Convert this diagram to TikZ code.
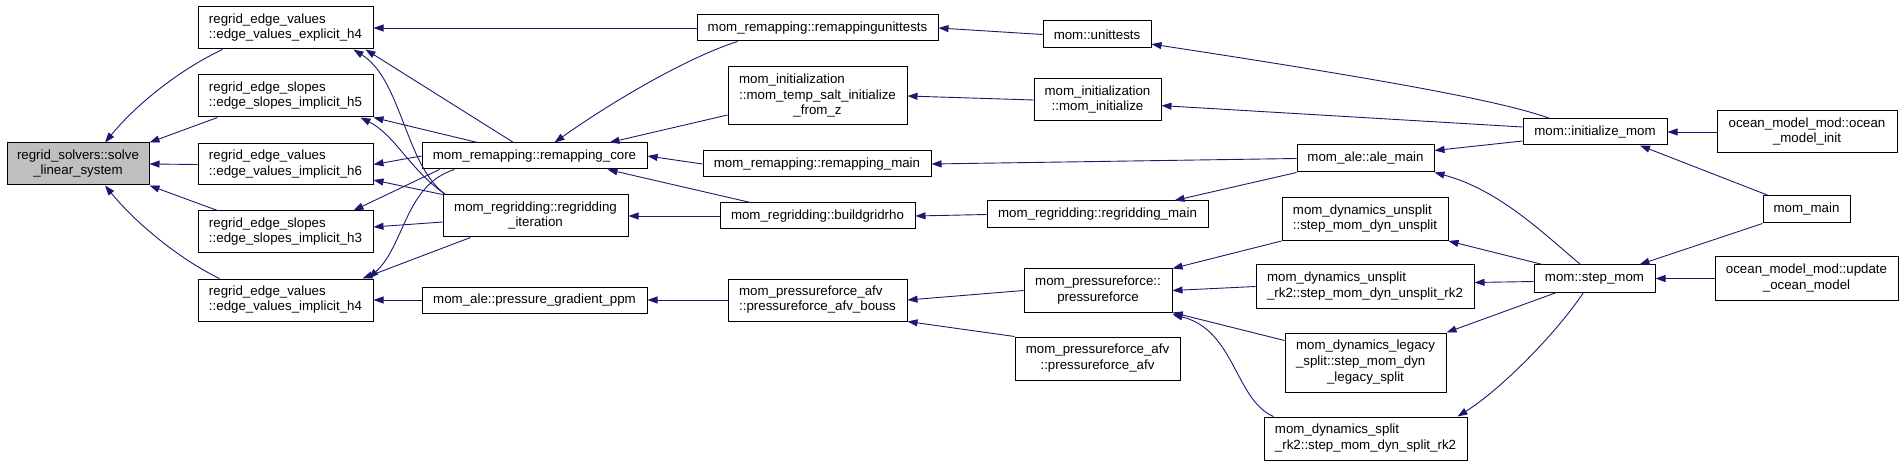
\documentclass[tikz,border=0pt]{standalone}
\usepackage{fontspec}
\setmainfont{Liberation Sans}
\usetikzlibrary{arrows.meta}
\definecolor{midnightblue}{RGB}{25,25,112}
\definecolor{callgray}{RGB}{191,191,191}
\newcommand{\lbl}[2]{\begin{tabular}{@{}l@{}}#1\\\multicolumn{1}{@{}c@{}}{#2}\end{tabular}}

\begin{document}
\begin{tikzpicture}[
        x=1pt, y=-1pt,
        func/.style 2 args={draw=black, fill=white, line width=1pt, inner sep=0pt,
            minimum width=#1pt, minimum height=#2pt,
            font=\fontsize{13.3}{15.7}\selectfont},
        rootfunc/.style={fill=callgray},
        edge/.style={draw=midnightblue, line width=0.9pt,
            -{Triangle[length=10pt, width=7pt]}}
    ]
        \useasboundingbox (0,0) rectangle (1904,465);
        % Nodes
        \node[func={142}{42}, rootfunc] (solve) at (78,164) {\lbl{regrid\_solvers::solve}{\_linear\_system}};
        \node[func={175}{42}] (exph4) at (285.5,28) {\lbl{regrid\_edge\_values}{::edge\_values\_explicit\_h4}};
        \node[func={175}{42}] (slh5) at (285.5,96) {\lbl{regrid\_edge\_slopes}{::edge\_slopes\_implicit\_h5}};
        \node[func={175}{41}] (vh6) at (285.5,164.5) {\lbl{regrid\_edge\_values}{::edge\_values\_implicit\_h6}};
        \node[func={175}{42}] (slh3) at (285.5,232) {\lbl{regrid\_edge\_slopes}{::edge\_slopes\_implicit\_h3}};
        \node[func={175}{42}] (imph4) at (285.5,300) {\lbl{regrid\_edge\_values}{::edge\_values\_implicit\_h4}};
        \node[func={225}{26}] (remcore) at (534.5,156) {mom\_remapping::remapping\_core};
        \node[func={185}{42}] (regiter) at (535.5,216) {\lbl{mom\_regridding::regridding}{\_iteration}};
        \node[func={225}{26}] (pgppm) at (534.5,300) {mom\_ale::pressure\_gradient\_ppm};
        \node[func={241}{26}] (remunit) at (817.5,28) {mom\_remapping::remappingunittests};
        \node[func={179}{58}] (tsfromz) at (817.5,96) {\lbl{mom\_initialization\\::mom\_temp\_salt\_initialize}{\_from\_z}};
        \node[func={228}{26}] (remmain) at (817,164) {mom\_remapping::remapping\_main};
        \node[func={195}{26}] (buildrho) at (817.5,216) {mom\_regridding::buildgridrho};
        \node[func={179}{42}] (afvbouss) at (817.5,300) {\lbl{mom\_pressureforce\_afv}{::pressureforce\_afv\_bouss}};
        \node[func={108}{27}] (unittests) at (1097,34.5) {mom::unittests};
        \node[func={127}{42}] (mominit) at (1097.5,100) {\lbl{mom\_initialization}{::mom\_initialize}};
        \node[func={137}{27}] (alemain) at (1365.5,158.5) {mom\_ale::ale\_main};
        \node[func={221}{27}] (regmain) at (1097.5,214.5) {mom\_regridding::regridding\_main};
        \node[func={166}{43}] (dynunsplit) at (1365,219) {\lbl{mom\_dynamics\_unsplit}{::step\_mom\_dyn\_unsplit}};
        \node[func={148}{43}] (pforce) at (1098,290.5) {\lbl{mom\_pressureforce::}{pressureforce}};
        \node[func={218}{43}] (unsplitrk2) at (1365,286.5) {\lbl{mom\_dynamics\_unsplit}{\_rk2::step\_mom\_dyn\_unsplit\_rk2}};
        \node[func={165}{43}] (pforceafv) at (1097.5,358.5) {\lbl{mom\_pressureforce\_afv}{::pressureforce\_afv}};
        \node[func={161}{59}] (legacy) at (1365.5,362.5) {\lbl{mom\_dynamics\_legacy\\\_split::step\_mom\_dyn}{\_legacy\_split}};
        \node[func={203}{43}] (splitrk2) at (1365.5,438.5) {\lbl{mom\_dynamics\_split}{\_rk2::step\_mom\_dyn\_split\_rk2}};
        \node[func={144}{26}] (initmom) at (1595,132) {mom::initialize\_mom};
        \node[func={180}{42}] (oceaninit) at (1807,132) {\lbl{ocean\_model\_mod::ocean}{\_model\_init}};
        \node[func={87}{27}] (mommain) at (1806.5,209.5) {mom\_main};
        \node[func={121}{27}] (stepmom) at (1594.5,278.5) {mom::step\_mom};
        \node[func={183}{43}] (updocean) at (1806.5,278.5) {\lbl{ocean\_model\_mod::update}{\_ocean\_model}};
        % Edges into solve_linear_system
        \draw[edge] ([xshift=25pt]exph4.south west) .. controls (185,67) and (140,100) .. ([xshift=27pt]solve.north);
        \draw[edge] ([xshift=20pt]slh5.south west) -- (solve.north east);
        \draw[edge] (vh6.west) -- (solve.east);
        \draw[edge] ([xshift=20pt]slh3.north west) -- (solve.south east);
        \draw[edge] ([xshift=22pt]imph4.north west) .. controls (185,262) and (140,228) .. ([xshift=27pt]solve.south);
        % Edges into the regrid_edge routines
        \draw[edge] (remunit.west) -- (exph4.east);
        \draw[edge] ([xshift=-21pt]remcore.north) -- ([xshift=-8pt]exph4.south east);
        \draw[edge] ([xshift=-90pt]regiter.north) .. controls (405,165) and (402,80) .. ([xshift=-20pt]exph4.south east);
        \draw[edge] ([xshift=-57pt]remcore.north) -- (slh5.south east);
        \draw[edge] ([xshift=-90pt]regiter.north) .. controls (410,170) and (395,135) .. ([xshift=-13pt]slh5.south east);
        \draw[edge] (remcore.west) -- (vh6.east);
        \draw[edge] (regiter.north west) -- (vh6.-10);
        \draw[edge] ([xshift=-95pt]remcore.south) -- ([xshift=-20pt]slh3.north east);
        \draw[edge] ([yshift=-6pt]regiter.west) -- ([yshift=5pt]slh3.east);
        \draw[edge] ([xshift=-65pt]regiter.south) -- ([xshift=-11pt]imph4.north east);
        \draw[edge] ([xshift=-80pt]remcore.south) .. controls (405,185) and (405,245) .. ([xshift=-5pt]imph4.north east);
        \draw[edge] (pgppm.west) -- (imph4.east);
        % Edges into the remapping and regridding core
        \draw[edge] ([xshift=-80pt]remunit.south) .. controls (680,60) and (600,110) .. ([xshift=20pt]remcore.north);
        \draw[edge] ([yshift=-19pt]tsfromz.west) -- ([xshift=75pt]remcore.north);
        \draw[edge] (remmain.west) -- (remcore.east);
        \draw[edge] ([xshift=-67pt]buildrho.north) -- ([xshift=73pt]remcore.south);
        \draw[edge] (buildrho.west) -- (regiter.east);
        \draw[edge] (afvbouss.west) -- (pgppm.east);
        \draw[edge] (unittests.west) -- (remunit.east);
        \draw[edge] (mominit.west) -- (tsfromz.east);
        \draw[edge] (alemain.west) -- (remmain.east);
        \draw[edge] (regmain.west) -- (buildrho.east);
        \draw[edge] (pforce.west) -- (afvbouss.east);
        \draw[edge] (pforceafv.north west) -- (afvbouss.south east);
        % Edges from the model drivers
        \draw[edge] ([xshift=-45pt]initmom.north) .. controls (1510,104) and (1420,85) .. (unittests.-10);
        \draw[edge] ([yshift=5pt]initmom.west) -- (mominit.-5);
        \draw[edge] ([yshift=-9pt]initmom.west) -- ([yshift=8pt]alemain.east);
        \draw[edge] (alemain.south west) -- ([xshift=77pt]regmain.north);
        \draw[edge] ([xshift=-14pt]stepmom.north) .. controls (1545,235) and (1500,190) .. (alemain.south east);
        \draw[edge] ([xshift=-52pt]stepmom.north) -- (dynunsplit.south east);
        \draw[edge] ([yshift=-3pt]stepmom.west) -- ([yshift=4pt]unsplitrk2.east);
        \draw[edge] ([xshift=-38pt]stepmom.south) -- (legacy.north east);
        \draw[edge] ([xshift=-11pt]stepmom.south) .. controls (1555,335) and (1500,390) .. ([xshift=-10pt]splitrk2.north east);
        \draw[edge] (dynunsplit.south west) -- (pforce.north east);
        \draw[edge] (unsplitrk2.west) -- (pforce.east);
        \draw[edge] ([yshift=-8pt]legacy.north west) -- (pforce.south east);
        \draw[edge] ([xshift=-92pt]splitrk2.north) .. controls (1235,400) and (1235,330) .. ([yshift=-2pt]pforce.south east);
        \draw[edge] (oceaninit.west) -- (initmom.east);
        \draw[edge] ([xshift=-38pt]mommain.north) -- ([xshift=45pt]initmom.south);
        \draw[edge] (mommain.south west) -- ([xshift=45pt]stepmom.north);
        \draw[edge] (updocean.west) -- (stepmom.east);
    \end{tikzpicture}
\end{document}
